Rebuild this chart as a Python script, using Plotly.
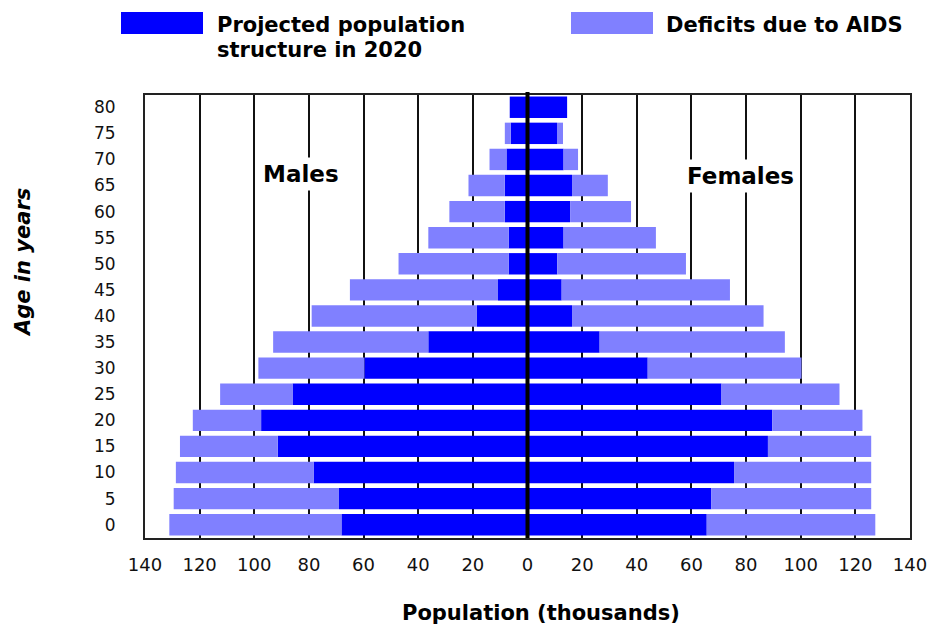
import plotly.graph_objects as go

# ---- data (thousands) ----
ages = [0, 5, 10, 15, 20, 25, 30, 35, 40, 45, 50, 55, 60, 65, 70, 75, 80]
male_projected = [68.1, 69.0, 78.3, 91.4, 97.5, 86.0, 59.7, 36.3, 18.5, 10.8, 6.9, 6.9, 8.3, 8.3, 7.7, 6.1, 6.5]
male_deficit = [63.0, 60.5, 50.4, 35.8, 25.0, 26.5, 38.8, 56.8, 60.5, 54.2, 40.3, 29.4, 20.3, 13.3, 6.2, 2.2, 0.0]
female_projected = [65.6, 67.3, 75.6, 88.0, 89.6, 71.0, 44.0, 26.4, 16.3, 12.5, 10.9, 13.2, 15.6, 16.3, 13.2, 10.8, 14.5]
female_deficit = [61.7, 58.5, 50.2, 37.8, 33.0, 43.2, 56.3, 67.8, 70.1, 61.6, 47.1, 33.8, 22.3, 13.1, 5.3, 2.2, 0.0]
x_ticks = [-140, -120, -100, -80, -60, -40, -20, 0, 20, 40, 60, 80, 100, 120, 140]
x_tick_labels = ["140", "120", "100", "80", "60", "40", "20", "0", "20", "40", "60", "80", "100", "120", "140"]

BLUE = "#0000FF"
LIGHT = "#8080FF"

fig = go.Figure()
fig.add_trace(go.Bar(y=ages, x=[-v for v in male_projected], orientation="h",
                     marker=dict(color=BLUE, line=dict(width=0)), name="Projected population structure in 2020"))
fig.add_trace(go.Bar(y=ages, x=[-v for v in male_deficit], orientation="h",
                     marker=dict(color=LIGHT, line=dict(width=0)), name="Deficits due to AIDS"))
fig.add_trace(go.Bar(y=ages, x=female_projected, orientation="h",
                     marker=dict(color=BLUE, line=dict(width=0)), showlegend=False))
fig.add_trace(go.Bar(y=ages, x=female_deficit, orientation="h",
                     marker=dict(color=LIGHT, line=dict(width=0)), showlegend=False))

W, H = 930, 628
ml, mr, mt, mb = 145, 20, 95, 90
pw, ph = W - ml - mr, H - mt - mb


def px(xpix):
    return (xpix - ml) / pw


def py(ypix):
    return (H - mb - ypix) / ph


fig.update_layout(
    width=W, height=H,
    margin=dict(l=ml, r=mr, t=mt, b=mb, autoexpand=False),
    paper_bgcolor="white", plot_bgcolor="white",
    barmode="relative", bargap=0.18,
    showlegend=False,
    xaxis=dict(range=[-140, 140], tickvals=x_ticks, ticktext=x_tick_labels,
               showgrid=True, gridcolor="#111111", gridwidth=2, zeroline=False,
               showline=True, linecolor="#222222", linewidth=2, mirror=True,
               ticks="", ticklabelstandoff=9, automargin=False,
               tickfont=dict(family="DejaVu Sans", size=18, color="#111111"), fixedrange=True),
    yaxis=dict(range=[-2.55, 82.35], tickvals=ages, ticktext=[str(a) for a in ages],
               showgrid=False, zeroline=False,
               showline=True, linecolor="#222222", linewidth=2, mirror=True,
               ticks="", ticklabelstandoff=24, automargin=False,
               tickfont=dict(family="DejaVu Sans", size=17, color="#111111"), fixedrange=True),
    shapes=[
        dict(type="line", xref="x", yref="paper", x0=0, x1=0, y0=0, y1=py(92),
             line=dict(color="black", width=4), layer="above"),
        dict(type="rect", xref="paper", yref="paper", x0=px(121), x1=px(203), y0=py(34), y1=py(12),
             fillcolor=BLUE, line=dict(width=0)),
        dict(type="rect", xref="paper", yref="paper", x0=px(571), x1=px(653), y0=py(34), y1=py(12),
             fillcolor=LIGHT, line=dict(width=0)),
    ],
    annotations=[
        dict(text="Projected population", xref="paper", yref="paper", x=px(215), y=py(25),
             xanchor="left", yanchor="middle", showarrow=False,
             font=dict(family="DejaVu Sans", size=21, color="black", weight="bold")),
        dict(text="structure in 2020", xref="paper", yref="paper", x=px(215), y=py(50),
             xanchor="left", yanchor="middle", showarrow=False,
             font=dict(family="DejaVu Sans", size=21, color="black", weight="bold")),
        dict(text="Deficits due to AIDS", xref="paper", yref="paper", x=px(664), y=py(25),
             xanchor="left", yanchor="middle", showarrow=False,
             font=dict(family="DejaVu Sans", size=21, color="black", weight="bold")),
        dict(text="Males", xref="x", yref="y", x=-83, y=67.2, showarrow=False,
             bgcolor="white", borderpad=3,
             font=dict(family="DejaVu Sans", size=23, color="black", weight="bold")),
        dict(text="Females", xref="x", yref="y", x=78, y=66.8, showarrow=False,
             bgcolor="white", borderpad=3,
             font=dict(family="DejaVu Sans", size=23, color="black", weight="bold")),
        dict(text="Population (thousands)", xref="paper", yref="paper", x=px(541), y=py(613),
             xanchor="center", yanchor="middle", showarrow=False,
             font=dict(family="DejaVu Sans", size=21, color="black", weight="bold")),
        dict(text="Age in years", xref="paper", yref="paper", x=px(23), y=py(263),
             xanchor="center", yanchor="middle", showarrow=False, textangle=-90,
             font=dict(family="DejaVu Sans", size=21, color="black", weight="bold", style="italic")),
    ],
)

fig.write_html("out.html", config={"displayModeBar": False},
               post_script="document.body.style.margin='0px';document.body.style.padding='0px';")
